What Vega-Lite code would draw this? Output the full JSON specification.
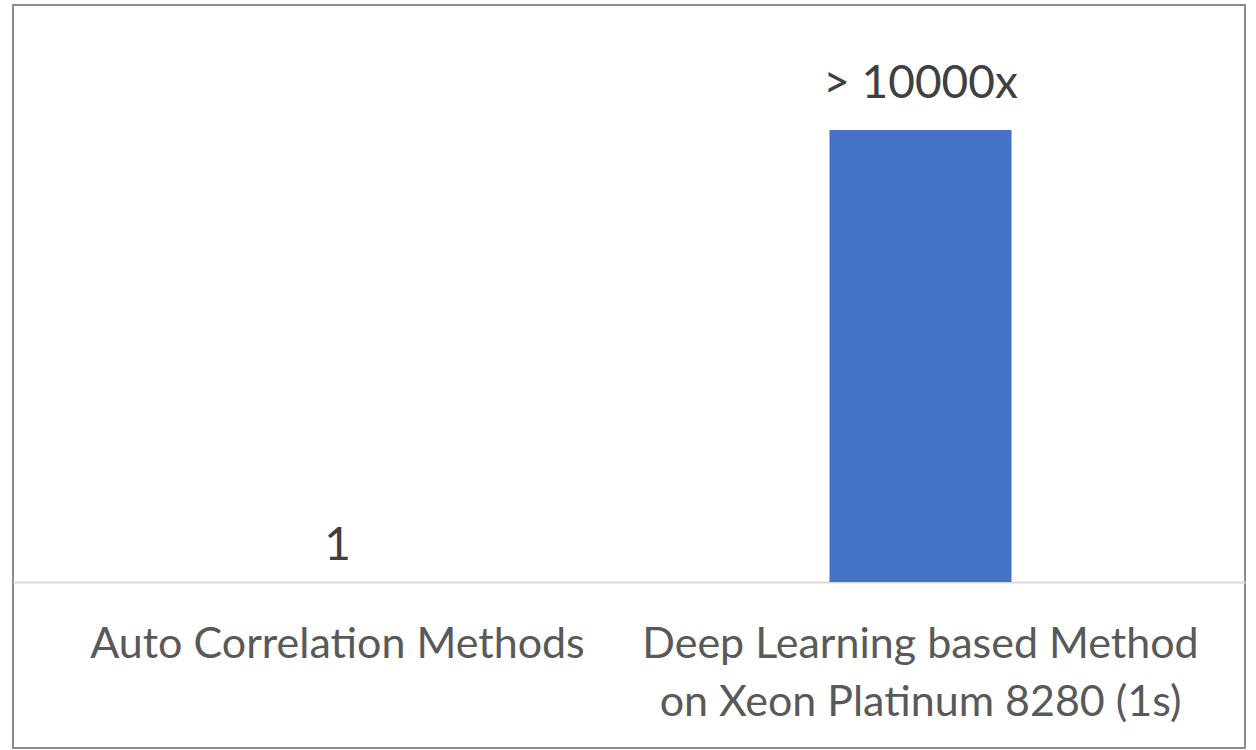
{
  "$schema": "https://vega.github.io/schema/vega-lite/v6.json",
  "autosize": {"type": "none"},
  "padding": {"left": 13, "top": 5, "right": 11, "bottom": 2},
  "width": 1232,
  "height": 743,
  "background": "white",
  "config": {"view": {"stroke": "#8c8c8c", "strokeWidth": 2}, "font": "Lato"},
  "data": {"values": [
    {"method": "Auto Correlation Methods", "speedup": 1, "label": "1"},
    {"method": "Deep Learning based Method|on Xeon Platinum 8280 (1s)", "speedup": 10000, "label": "> 10000x"}
  ]},
  "encoding": {
    "x": {"field": "method", "type": "nominal", "sort": null,
      "scale": {"paddingInner": 0.6878, "paddingOuter": 0.4005},
      "axis": {"title": null, "orient": "bottom", "offset": -166, "labelAngle": 0,
        "labelExpr": "split(datum.label, '|')", "labelFont": "Lato", "labelFontSize": 43,
        "labelColor": "#595959", "labelPadding": 41, "labelLineHeight": 58, "labelBaseline": "top",
        "labelLimit": 0, "labelOverlap": false, "labelBound": false, "labelFlush": false,
        "ticks": false, "domain": true, "domainColor": "#d9d9d9", "domainWidth": 2, "grid": false}},
    "y": {"field": "speedup", "type": "quantitative",
      "scale": {"domain": [-3673, 12765], "nice": false, "zero": false},
      "axis": null}
  },
  "layer": [
    {"mark": {"type": "bar", "color": "#4472c4"}},
    {"transform": [{"filter": "datum.speedup < 100"}],
     "mark": {"type": "text", "fontSize": 46, "color": "#404040", "baseline": "alphabetic", "dy": -22},
     "encoding": {"text": {"field": "label"}}},
    {"transform": [{"filter": "datum.speedup >= 100"}],
     "mark": {"type": "text", "fontSize": 46, "color": "#404040", "baseline": "alphabetic", "dy": -32},
     "encoding": {"text": {"field": "label"}}}
  ]
}
